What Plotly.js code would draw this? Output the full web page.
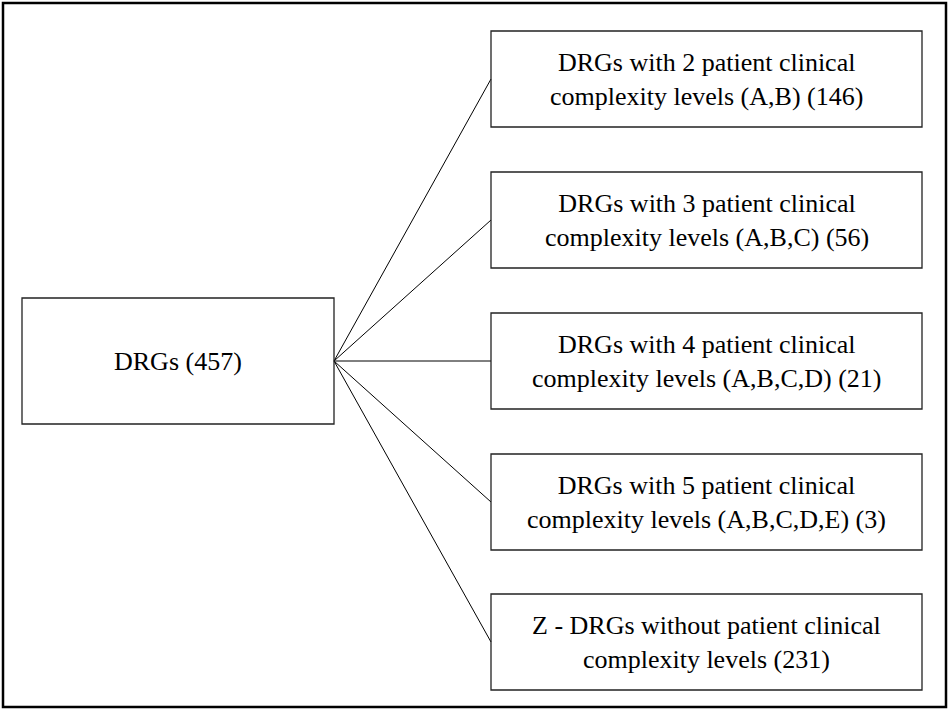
<!DOCTYPE html>
<html><head><meta charset="utf-8">
<script src="https://cdn.plot.ly/plotly-3.0.1.min.js"></script>
<style>html,body{margin:0;padding:0;background:#fff;}#chart{width:950px;height:711px;}</style>
</head><body><div id="chart"></div>
<script>
const rootLabel = "DRGs";
const rootCount = 457;
const childLines1 = [
  "DRGs with 2 patient clinical",
  "DRGs with 3 patient clinical",
  "DRGs with 4 patient clinical",
  "DRGs with 5 patient clinical",
  "Z - DRGs without patient clinical"
];
const childLines2 = [
  "complexity levels (A,B)",
  "complexity levels (A,B,C)",
  "complexity levels (A,B,C,D)",
  "complexity levels (A,B,C,D,E)",
  "complexity levels"
];
const childCounts = [146, 56, 21, 3, 231];

// layout geometry (pixel-like data units)
const W = 950, H = 711;
const root = {x0: 22, x1: 334, y0: 298, y1: 424};
const cx0 = 491, cx1 = 922;
const childTops = [31, 172, 313, 454, 594];
const boxH = 96;

const shapes = [];
const annotations = [];
const traces = [];
const font = {family: "Liberation Serif, Times New Roman, serif", size: 26, color: "#000"};

// outer frame
shapes.push({type: "rect", xref: "x", yref: "y", x0: 3, x1: 946, y0: 3, y1: 707,
  line: {color: "#000", width: 2.5}, fillcolor: "rgba(0,0,0,0)"});
// root box
shapes.push({type: "rect", xref: "x", yref: "y", x0: root.x0, x1: root.x1, y0: root.y0, y1: root.y1,
  line: {color: "#222", width: 1.3}, fillcolor: "rgba(0,0,0,0)"});
const hubY = (root.y0 + root.y1) / 2;
annotations.push({x: (root.x0 + root.x1) / 2, y: hubY, xref: "x", yref: "y",
  text: rootLabel + " (" + rootCount + ")", showarrow: false, font: font});

childCounts.forEach((c, i) => {
  const y0 = childTops[i], y1 = y0 + boxH, ym = (y0 + y1) / 2;
  shapes.push({type: "rect", xref: "x", yref: "y", x0: cx0, x1: cx1, y0: y0, y1: y1,
    line: {color: "#222", width: 1.3}, fillcolor: "rgba(0,0,0,0)"});
  traces.push({type: "scatter", mode: "lines", x: [root.x1, cx0], y: [hubY, ym],
    line: {color: "#000", width: 1}, hoverinfo: "skip", showlegend: false});
  annotations.push({x: (cx0 + cx1) / 2, y: ym, xref: "x", yref: "y",
    text: childLines1[i] + "<br>" + childLines2[i] + " (" + c + ")",
    showarrow: false, font: font, align: "center"});
});

Plotly.newPlot("chart", traces, {
  width: W, height: H,
  margin: {l: 0, r: 0, t: 0, b: 0},
  paper_bgcolor: "#fff", plot_bgcolor: "#fff",
  xaxis: {range: [0, W], visible: false, fixedrange: true},
  yaxis: {range: [H, 0], visible: false, fixedrange: true},
  shapes: shapes, annotations: annotations, showlegend: false
}, {displayModeBar: false, staticPlot: true});
</script></body></html>
